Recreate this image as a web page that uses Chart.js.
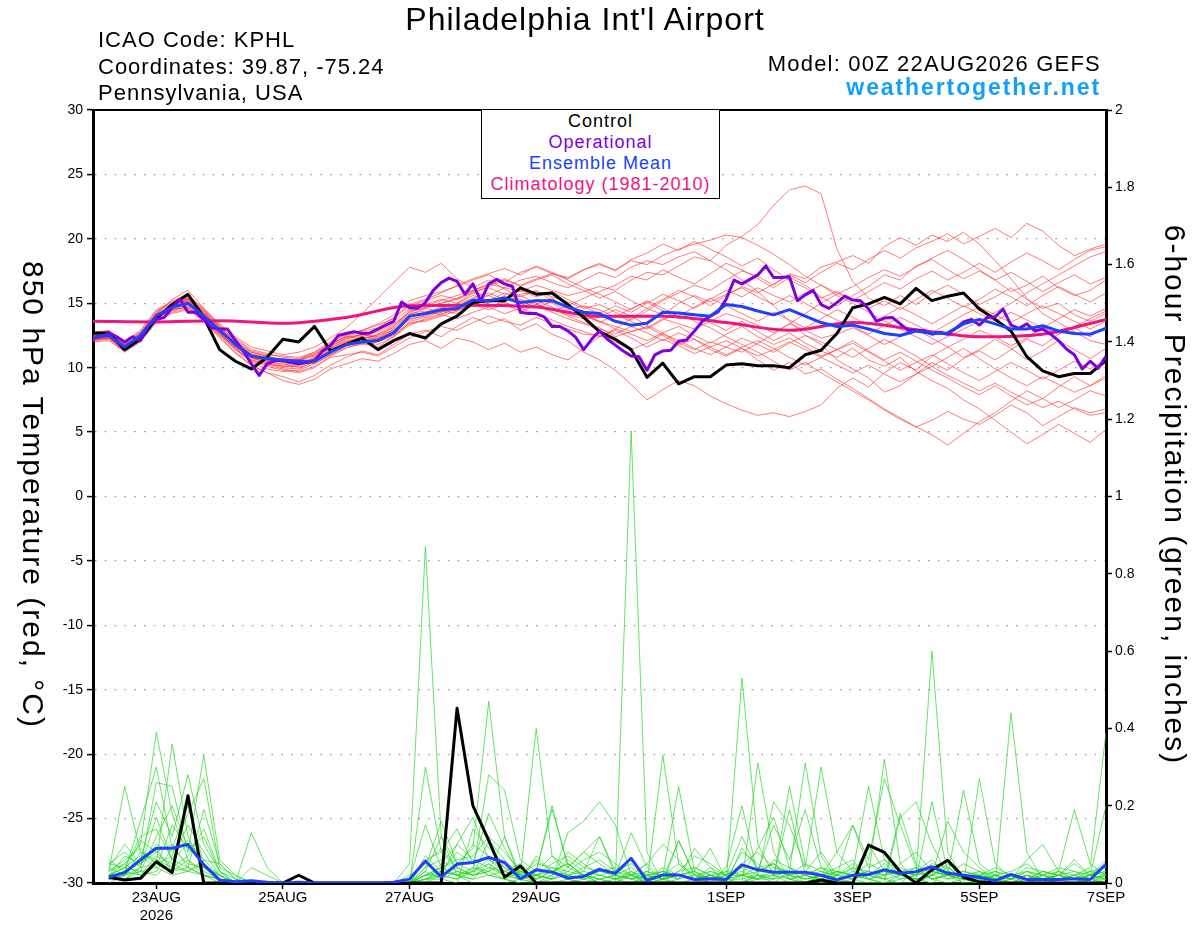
<!DOCTYPE html>
<html>
<head>
<meta charset="utf-8">
<title>Philadelphia Int'l Airport - GEFS meteogram</title>
<script src="https://cdn.jsdelivr.net/npm/chart.js@4.4.1/dist/chart.umd.min.js"></script>
<style>
  html, body { margin:0; padding:0; background:#fff; }
  #wrap { position:relative; width:1200px; height:927px; overflow:hidden; font-family:"Liberation Sans", Arial, Helvetica, sans-serif; color:#000; }
  #c { position:absolute; left:0; top:0; }
  .txt { position:absolute; white-space:nowrap; line-height:1; }
  #title { left:285px; width:600px; top:3px; text-align:center; font-size:32px; letter-spacing:1px; }
  #info { left:98px; top:27px; font-size:22px; letter-spacing:1px; line-height:26.5px; }
  #model { right:99px; top:53px; font-size:22px; letter-spacing:1.2px; text-align:right; }
  #site { right:99px; top:76px; font-size:23px; font-weight:bold; letter-spacing:1.9px; color:#12a0fa; text-align:right; }
  #legend { position:absolute; left:481px; top:109px; width:239px; height:90px; box-sizing:border-box; border:1.5px solid #000; background:#fff; text-align:center; font-size:18px; letter-spacing:1px; line-height:21.3px; padding-top:0.5px; white-space:nowrap; }
  .axt { position:absolute; width:700px; height:40px; line-height:40px; text-align:center; font-size:30px; letter-spacing:2px; white-space:nowrap; transform:rotate(90deg); }
  #ylab { left:-317px; top:475px; }
  #y2lab { left:825px; top:475px; }
</style>
</head>
<body>
<div id="wrap">
  <canvas id="c" width="1200" height="927"></canvas>
  <div class="txt" id="title">Philadelphia Int'l Airport</div>
  <div class="txt" id="info">ICAO Code: KPHL<br>Coordinates: 39.87, -75.24<br>Pennsylvania, USA</div>
  <div class="txt" id="model">Model: 00Z 22AUG2026 GEFS</div>
  <div class="txt" id="site">weathertogether.net</div>
  <div id="legend">
    <div style="color:#000">Control</div>
    <div style="color:#8000dd">Operational</div>
    <div style="color:#2040ff">Ensemble Mean</div>
    <div style="color:#f0147f">Climatology (1981-2010)</div>
  </div>
  <div class="axt" id="ylab">850 hPa Temperature (red, °C)</div>
  <div class="axt" id="y2lab">6-hour Precipitation (green, inches)</div>
</div>
<script>
// ---------- x axis (hours after 00Z 22AUG2026) ----------
const tickHours  = [24, 72, 120, 168, 240, 288, 336, 384];
const tickLabels = [['23AUG', '2026'], '25AUG', '27AUG', '29AUG', '1SEP', '3SEP', '5SEP', '7SEP'];

// ---------- 850 hPa temperature (deg C), 6-hourly from 00Z 22AUG ----------
const controlT = [12.7,12.7,11.4,12.2,13.8,14.9,15.7,13.9,
  11.4,10.5,9.9,10.8,12.2,12.0,13.2,11.3,
  11.8,12.3,11.4,12.1,12.65,12.3,13.4,14.0,
  15.05,15.2,15.2,16.2,15.7,15.8,14.9,13.9,
  12.8,12.2,11.4,9.25,10.35,8.75,9.3,9.3,
  10.2,10.3,10.15,10.15,10.0,11.0,11.35,12.65,
  14.65,14.95,15.45,14.95,16.15,15.2,15.55,15.8,
  14.55,13.75,12.85,10.85,9.75,9.3,9.55,9.55,
  10.55];
const meanT = [12.4,12.5,11.6,12.5,14.0,14.7,15.0,14.0,
  12.9,11.8,10.9,10.7,10.6,10.5,10.5,11.2,
  11.8,12.0,12.1,12.7,14.0,14.2,14.5,14.6,
  15.25,15.2,15.4,15.05,15.2,15.2,14.7,14.3,
  14.2,13.6,13.3,13.45,14.3,14.25,14.1,14.0,
  14.9,14.75,14.4,14.1,14.5,14.0,13.5,13.2,
  13.3,13.0,12.65,12.5,12.85,12.65,12.7,13.4,
  13.75,13.4,13.0,13.0,13.25,12.85,12.65,12.6,
  13.05];
// operational run, 3-hourly
const operationalT = [12.3,12.4,12.7,12.4,12.0,12.4,12.1,13.25,
  13.75,13.9,14.65,15.3,14.3,14.3,13.75,13.1,
  13.0,13.0,12.1,11.3,10.3,9.4,10.3,10.55,
  10.55,10.4,10.3,10.4,10.55,11.3,11.7,12.5,
  12.65,12.8,12.65,12.7,13.0,13.3,13.6,15.1,
  14.65,14.6,15.05,16.0,16.6,16.95,16.7,15.7,
  16.5,15.2,16.5,16.85,16.5,16.3,14.3,14.2,
  14.2,13.95,13.2,13.2,12.85,12.35,11.4,12.2,
  12.85,12.2,11.75,11.3,10.9,10.85,9.8,11.0,
  11.3,11.35,12.05,12.15,12.85,13.6,14.0,14.35,
  15.3,16.8,16.5,16.85,17.2,17.9,17.0,17.0,
  17.05,15.2,15.65,16.0,14.9,14.6,15.05,15.55,
  15.25,15.2,14.55,13.6,13.85,13.9,13.4,12.9,
  12.9,12.85,12.6,12.75,12.6,13.05,13.55,13.75,
  13.3,13.9,13.95,14.55,13.3,13.05,13.4,12.85,
  13.0,12.6,12.1,11.45,11.0,9.9,10.5,9.95,
  10.9];
// climatology 1981-2010, daily at 00Z
const climT = [13.6,13.55,13.65,13.45,13.9,14.8,14.85,14.7,14.0,14.0,13.5,12.9,13.5,12.95,12.4,12.6,13.75];

// ensemble members (temperature)
const memT01 = [12.6,12.8,11.9,12.7,14.3,15.2,15.6,14.5, 13.2,12.0,11.2,10.9,10.4,10.2,10.8,11.6, 12.3,12.6,12.4,13.2,14.5,14.9,15.3,15.0, 15.8,15.6,16.2,15.9,16.4,16.0,15.6,15.9, 16.3,16.0,16.8,17.4,17.2,17.9,18.6,18.3, 19.5,20.2,21.1,22.6,23.8,24.1,23.5,19.2, 16.7,15.4,14.8,15.6,14.9,15.8,16.4,15.7, 14.9,15.5,16.2,15.3,14.6,15.0,14.1,13.6, 14.2];
const memT02 = [12.2,12.3,11.4,12.6,14.2,15.3,16.0,14.6, 13.4,12.4,11.6,11.3,11.0,11.2,11.6,12.3, 13.1,14.2,15.4,16.6,17.8,17.4,18.1,16.9, 16.2,16.8,16.1,15.5,16.0,15.2,14.8,15.4, 15.9,16.4,17.1,16.8,17.6,17.0,16.5,17.3, 18.1,17.6,16.9,16.2,17.0,16.4,15.5,14.8, 15.6,16.3,17.2,16.8,17.9,18.4,17.6,16.9, 17.5,16.8,15.9,16.4,17.1,16.2,15.6,16.0, 16.8];
const memT03 = [12.1,12.2,11.2,12.0,13.5,14.4,14.8,13.6, 12.4,11.2,10.2,9.6,9.3,8.9,9.4,10.2, 10.8,11.3,11.0,11.8,12.6,12.9,12.4,13.2, 13.9,13.4,13.8,12.9,13.4,12.6,12.1,11.2, 10.6,9.8,8.7,7.5,8.3,9.0,8.6,7.8, 7.2,6.7,6.3,6.5,6.2,6.6,7.1,8.4, 9.2,8.5,9.6,10.4,9.8,10.9,11.6,10.8, 11.4,12.2,11.5,10.6,11.3,12.1,11.4,10.7, 11.5];
const memT04 = [12.5,12.7,11.8,12.4,13.9,14.5,14.7,13.8, 12.6,11.5,10.5,10.1,9.8,9.6,10.0,10.9, 11.5,11.9,11.6,12.4,13.3,13.8,14.2,14.5, 14.9,15.3,15.0,14.6,15.2,14.7,14.0,13.5, 13.1,12.4,12.8,13.2,12.5,11.8,12.2,11.4, 10.9,11.5,10.6,9.8,10.4,9.5,9.9,9.1, 8.4,7.6,6.8,6.1,5.4,4.8,4.0,4.9, 5.8,6.5,7.4,8.2,7.6,8.5,9.3,8.6, 9.4];
const memT05 = [12.3,12.6,11.7,12.6,14.1,14.8,15.2,14.2, 13.0,11.9,11.0,10.6,10.5,10.3,10.6,11.4, 12.0,12.2,12.6,13.1,14.1,14.6,14.3,15.0, 15.6,15.2,15.8,15.3,14.9,15.4,14.5,14.8, 14.5,13.9,14.6,15.1,14.4,13.8,14.2,13.5, 12.9,13.6,12.8,12.1,12.7,11.9,11.3,10.8, 11.5,10.6,10.1,10.8,9.7,9.0,8.4,7.5, 6.8,5.9,5.0,4.1,4.8,5.6,4.9,4.2, 5.2];
const memT06 = [12.7,12.9,12.0,12.8,14.4,15.0,15.3,14.3, 13.1,12.2,11.3,11.0,10.9,10.8,11.2,11.9, 12.4,12.5,12.9,13.6,14.6,14.8,15.2,15.6, 16.0,16.4,16.9,16.3,16.8,17.2,16.5,16.0, 15.4,15.9,15.2,14.6,15.3,16.0,15.5,14.8, 15.6,16.3,15.8,16.5,17.2,16.6,17.4,18.1, 17.6,18.4,19.1,18.5,19.3,19.8,20.4,19.6, 20.2,20.8,20.1,21.2,20.6,19.5,18.7,19.2, 19.6];
const memT07 = [12.0,12.1,11.3,12.2,13.8,14.9,15.5,14.4, 12.8,11.7,10.8,10.3,10.0,9.9,10.5,11.3, 12.0,12.4,12.2,12.9,13.8,14.0,14.6,14.9, 15.4,15.8,15.3,15.7,15.9,15.5,15.1,14.6, 14.9,14.3,13.7,14.4,15.2,15.8,16.4,16.0, 16.8,17.5,17.1,16.4,17.3,16.9,17.8,18.2, 18.7,18.1,19.4,20.1,19.5,20.3,19.8,20.5, 19.6,18.3,16.9,15.4,14.2,13.5,12.8,12.1, 11.8];
const memT08 = [12.4,12.4,11.5,12.3,14.0,14.6,14.9,13.9, 12.7,11.6,10.7,10.5,10.2,10.4,10.3,11.0, 11.6,11.8,12.0,12.5,13.6,13.9,14.4,14.2, 14.8,15.0,15.6,14.8,15.3,15.0,14.4,14.0, 13.6,13.2,12.8,13.1,13.8,13.4,13.0,13.6, 14.2,13.8,13.3,12.7,13.4,12.9,12.3,12.6, 13.1,12.5,11.8,12.4,13.0,12.3,11.6,12.2, 12.9,12.4,11.7,12.3,13.1,12.6,13.2,13.8, 14.4];
const memT09 = [12.2,12.3,11.6,12.5,14.0,14.6,15.1,14.1, 12.9,11.8,10.9,10.5,10.3,10.0,10.4,11.2, 11.9,12.1,12.3,13.0,14.4,14.6,15.0,15.3, 16.0,16.5,16.2,16.8,17.1,16.6,16.2,16.8, 17.4,17.0,17.8,18.3,18.0,18.6,19.0,18.3, 17.6,16.8,15.9,14.8,13.6,12.5,11.8,10.6, 9.9,9.2,8.1,8.6,9.5,10.4,9.8,10.7, 11.3,10.6,11.4,12.2,11.7,12.6,13.1,12.4, 13.2];
const memT10 = [12.6,12.5,11.5,12.1,13.7,14.3,14.6,13.7, 12.5,11.4,10.6,10.2,9.9,9.7,10.1,10.8, 11.0,11.2,10.9,11.6,12.3,12.8,13.2,12.9, 13.5,14.0,13.6,13.3,13.9,13.4,13.0,12.6, 12.5,12.0,11.4,11.9,12.6,12.1,11.5,11.0, 11.6,12.3,11.8,11.2,11.9,12.5,12.0,11.4, 10.8,11.5,12.2,11.6,10.9,10.1,10.8,11.5, 10.7,9.9,9.2,8.6,9.3,8.7,8.1,8.6, 9.2];
const memT11 = [12.3,12.5,11.7,12.6,14.2,15.0,15.6,14.6, 13.3,12.3,11.4,11.1,10.8,10.7,11.1,11.8, 12.5,12.9,13.4,14.1,15.2,15.6,15.9,16.3, 16.8,17.2,16.6,17.4,17.8,17.3,16.9,17.6, 18.1,17.5,18.4,18.9,19.6,19.1,19.8,19.2, 18.6,17.9,18.5,17.6,16.8,16.2,15.4,15.9, 15.3,14.6,15.2,14.5,15.3,16.0,15.4,14.7, 15.3,16.1,15.5,14.8,15.6,16.3,15.7,15.1, 15.8];
const memT12 = [12.5,12.6,11.8,12.5,14.1,14.9,15.4,14.3, 13.1,12.0,11.0,10.8,10.7,10.6,10.9,11.5, 12.1,12.3,12.5,12.9,14.0,14.3,14.7,14.4, 15.0,14.7,15.1,14.6,14.9,14.5,14.1,13.8, 13.9,14.5,14.0,13.3,12.7,13.2,12.5,11.9, 12.6,13.2,12.4,11.8,12.3,11.6,10.9,11.4, 12.1,11.3,10.6,11.2,10.5,9.8,9.2,8.5, 7.9,8.6,7.8,7.1,7.6,6.9,7.5,8.2, 7.8];
const memT13 = [12.4,12.7,11.9,12.7,14.2,14.7,15.0,14.0, 12.8,11.7,10.8,10.4,10.1,10.2,10.7,11.5, 12.2,12.6,12.3,12.8,13.7,14.1,14.3,14.8, 15.3,15.1,15.5,15.2,14.7,15.1,14.7,14.1, 13.6,13.0,12.6,12.1,12.7,11.9,11.4,12.0, 11.6,11.2,11.9,12.6,13.4,14.2,15.0,15.7, 16.3,17.0,17.6,17.1,17.8,18.5,19.1,18.4, 17.6,16.8,17.4,16.7,15.9,16.6,17.2,16.5, 17.0];
const memT14 = [12.1,12.3,11.4,12.3,13.8,14.6,15.2,14.1, 12.6,11.4,10.4,9.9,9.7,9.8,10.3,11.0, 11.7,12.0,12.6,13.3,14.2,14.4,14.1,14.7, 15.2,15.6,15.1,15.6,15.0,14.4,14.8,14.2, 13.5,14.1,13.6,13.0,13.7,14.3,13.6,13.1, 12.4,11.8,11.2,10.5,9.8,10.4,9.6,8.9, 8.2,7.5,6.7,6.0,5.4,5.9,6.6,6.0, 5.6,6.3,7.1,6.5,5.5,6.2,6.9,6.5, 6.8];
const memT15 = [12.6,12.8,12.0,12.9,14.5,15.1,15.4,14.4, 13.2,12.1,11.2,10.9,10.6,10.6,11.0,11.7, 12.3,12.4,12.8,13.4,14.3,14.7,15.0,15.4, 15.9,16.2,15.7,16.0,15.5,15.9,15.3,14.7, 14.2,14.8,14.3,15.0,15.7,15.2,14.6,15.3, 16.0,15.5,16.2,15.6,15.1,15.8,16.4,15.8, 15.2,15.9,16.6,16.1,16.9,17.5,16.8,17.4, 18.1,17.4,18.2,18.9,18.3,17.6,18.4,19.1, 19.4];
const memT16 = [12.3,12.4,11.5,12.4,13.9,14.5,14.9,14.0, 12.7,11.5,10.6,10.3,10.1,10.1,10.6,11.3, 11.8,12.0,11.8,12.4,13.5,13.6,14.0,14.4, 14.9,14.5,14.9,14.4,14.8,14.3,13.8,13.4, 13.0,12.6,13.2,12.7,12.1,12.7,12.2,11.6, 11.0,11.6,12.1,11.5,10.8,10.2,10.8,11.4, 11.9,11.2,10.5,9.8,10.4,11.0,10.3,9.6, 9.0,9.7,10.4,9.8,9.1,9.8,10.5,9.9, 10.6];
const memT17 = [12.5,12.6,11.6,12.4,14.0,14.8,15.3,14.2, 12.9,11.9,11.1,10.8,10.6,10.5,11.0,11.8, 12.4,12.8,13.1,13.9,14.9,15.3,15.8,16.4, 16.9,17.3,17.7,17.2,17.9,17.4,16.8,16.2, 15.7,15.1,14.5,15.2,14.6,14.0,14.7,15.4, 14.8,14.2,13.6,14.3,13.7,13.1,13.8,14.5, 13.9,13.3,14.0,14.7,14.1,13.4,14.1,14.8, 14.2,13.6,14.3,13.7,13.1,13.8,14.5,14.0, 14.6];
const memT18 = [12.2,12.4,11.5,12.3,13.6,14.2,14.5,13.6, 12.3,11.1,10.2,9.6,9.0,8.7,9.1,9.9, 10.3,10.7,10.5,11.1,11.8,12.1,11.5,12.3, 12.0,11.4,11.9,11.2,11.6,11.0,10.6,11.5, 12.4,13.0,13.8,14.6,14.1,15.0,15.6,15.1, 15.7,16.2,15.5,14.9,15.6,15.0,14.3,13.7, 13.2,12.6,13.3,13.9,13.3,12.7,13.4,14.1, 14.7,14.1,13.5,14.2,14.8,14.2,13.6,13.0, 13.6];
const memT19 = [12.7,12.8,11.8,12.5,14.0,14.8,15.3,14.2, 13.0,11.9,11.0,10.7,10.5,10.6,11.2,12.0, 12.6,12.9,13.3,13.8,14.8,15.2,15.6,15.3, 15.8,16.3,16.8,16.4,16.9,17.3,17.0,17.6, 18.0,17.6,18.3,18.0,18.7,19.2,19.6,19.9, 20.3,20.1,19.5,18.8,18.0,17.1,16.4,15.6, 15.0,14.3,13.6,13.0,12.4,11.8,12.4,13.0, 13.6,14.3,15.0,15.8,16.5,17.2,17.9,18.6, 19.0];
const memT20 = [12.4,12.3,11.3,12.1,13.8,14.5,14.7,13.8, 12.6,11.6,10.8,10.6,10.4,10.3,10.8,11.3, 11.9,12.0,12.2,12.6,13.4,13.7,14.1,13.8, 14.3,14.7,14.2,14.6,14.2,13.7,13.2,12.8, 12.4,12.9,12.3,11.6,12.2,11.7,11.1,11.6, 12.1,11.5,10.9,11.4,12.0,11.4,10.8,10.2, 9.6,10.2,9.5,8.9,9.5,10.1,9.4,8.8, 8.2,8.8,8.1,7.5,6.9,7.4,6.8,6.3, 6.5];

// ---------- 6-hour precipitation (inches), 6-hourly ending 06Z 22AUG ... 00Z 7SEP ----------
const controlP = [0.015,0.008,0.012,0.055,0.027,0.226,0,0, 0,0,0,0,0.02,0,0,0, 0,0,0,0,0,0,0.452,0.2, 0.11,0.015,0.044,0,0,0,0,0, 0,0,0,0,0,0,0,0, 0,0,0,0,0,0.008,0,0, 0.098,0.079,0.029,0,0.034,0.059,0.015,0.003, 0,0,0,0,0,0,0,0];
const meanP = [0.015,0.027,0.06,0.09,0.09,0.10,0.047,0.008, 0.003,0.006,0.002,0,0.002,0,0,0, 0,0,0.002,0.01,0.057,0.016,0.049,0.053, 0.066,0.053,0.011,0.034,0.028,0.013,0.017,0.035, 0.025,0.064,0.006,0.021,0.021,0.009,0.011,0.009, 0.047,0.034,0.028,0.028,0.028,0.02,0.008,0.02, 0.022,0.034,0.025,0.029,0.042,0.025,0.02,0.015, 0.006,0.022,0.009,0.009,0.009,0.011,0.009,0.049];
const memP01 = [0.02,0.05,0.10,0.39,0.18,0.06,0.02,0, 0,0,0,0,0,0,0,0, 0,0,0,0.05,0.87,0.12,0.02,0, 0,0,0.01,0.02,0.03,0.05,0.02,0, 0,1.17,0.08,0,0,0.01,0.02,0, 0,0.03,0.05,0.02,0,0.01,0,0, 0,0,0,0,0.02,0.05,0.02,0, 0,0.01,0.03,0.01,0,0,0,0.02];
const memP02 = [0.03,0.25,0.08,0.05,0.36,0.12,0.04,0.01, 0,0,0,0,0,0,0,0, 0,0,0,0,0.30,0.08,0.14,0.05, 0.02,0.01,0,0,0,0,0.01,0.03, 0.02,0.01,0,0.33,0.05,0.01,0,0, 0.53,0.10,0.02,0,0,0.01,0.03,0.02, 0.01,0,0,0,0.02,0.04,0.01,0, 0,0,0,0.02,0.01,0,0,0];
const memP03 = [0.01,0.03,0.16,0.30,0.09,0.20,0.05,0, 0,0.13,0.04,0,0,0,0,0, 0,0,0,0,0.04,0.16,0.05,0.09, 0.47,0.12,0.02,0,0,0.01,0,0, 0,0,0.01,0.02,0.25,0.03,0,0, 0,0.31,0.08,0.01,0,0,0.02,0.04, 0.01,0,0.02,0.03,0.01,0,0,0, 0,0,0,0,0.01,0.02,0.04,0.39];
const memP04 = [0.05,0.08,0.04,0.26,0.25,0.08,0.33,0.06, 0.02,0,0,0,0,0,0,0, 0,0,0,0,0.02,0.02,0.10,0.17, 0.06,0.03,0.02,0.40,0.07,0.02,0.01,0, 0,0.03,0,0,0.01,0.09,0.04,0, 0,0.02,0.01,0.25,0.05,0,0,0, 0,0,0.01,0.02,0.60,0.08,0.01,0, 0,0,0.02,0.01,0,0,0.01,0];
const memP05 = [0,0.02,0.06,0.21,0.12,0.28,0.10,0.03, 0,0,0,0,0,0,0,0, 0,0,0,0.01,0.15,0.04,0.02,0.03, 0.28,0.24,0.06,0.03,0.19,0.05,0.02,0.01, 0,0,0,0.01,0.02,0.01,0,0.04, 0.20,0.02,0,0.03,0.31,0.07,0.01,0, 0,0.04,0.02,0.01,0,0.03,0.02,0.01, 0,0.44,0.08,0.01,0,0,0.01,0.01];
const memP06 = [0.02,0.04,0.12,0.14,0.06,0.04,0.19,0.05, 0.01,0,0,0,0,0,0,0, 0,0,0,0,0.06,0.08,0.04,0.02, 0.03,0.12,0.01,0,0.01,0.13,0.16,0.21, 0.15,0.02,0,0,0.11,0.02,0.01,0, 0.02,0.09,0.17,0.04,0,0.02,0,0.01, 0.02,0.32,0.05,0.01,0.21,0.03,0,0, 0,0,0.01,0.01,0.02,0.06,0.02,0.01];
const memP07 = [0.04,0.10,0.05,0.08,0.04,0.03,0.06,0.02, 0,0,0,0,0,0,0,0, 0,0,0,0,0.01,0.03,0.02,0.01, 0.05,0.02,0.01,0.03,0.20,0.04,0.08,0.12, 0.02,0.13,0.04,0.01,0.11,0.02,0,0, 0,0.02,0.21,0.15,0.04,0.30,0.08,0.03, 0.25,0.06,0.02,0.01,0,0,0.01,0, 0.02,0,0,0.01,0.03,0.01,0,0.03];
const memP08 = [0.01,0.02,0.03,0.12,0.20,0.09,0.05,0.01, 0,0,0,0,0,0,0,0, 0,0,0,0,0.03,0.01,0,0.14, 0.09,0.05,0.03,0.01,0.03,0.01,0.02,0, 0.01,0,0.02,0.01,0.03,0.04,0.02,0, 0.09,0.04,0.05,0.01,0,0.02,0.08,0.15, 0.06,0.27,0.15,0.04,0.01,0.02,0.05,0.03, 0,0.01,0,0,0.02,0.05,0.02,0.20];
const memP09 = [0.03,0.06,0.09,0.05,0.07,0.18,0.27,0.04, 0.02,0,0,0,0,0,0,0, 0,0,0,0.02,0.05,0.09,0.04,0.02, 0.11,0.06,0.02,0.05,0.04,0.02,0.03,0.12, 0.03,0.01,0.02,0.01,0.02,0.03,0.09,0.01, 0,0.01,0.06,0.04,0.02,0.01,0.02,0.01, 0,0,0.17,0.21,0.10,0.02,0,0.27, 0.05,0.01,0.02,0,0.03,0.02,0,0.01];
const memP10 = [0.06,0.03,0.11,0.08,0.10,0.04,0.02,0.01, 0,0,0,0,0,0,0,0, 0,0,0,0,0,0.05,0.10,0.06, 0.04,0.02,0.01,0,0.02,0.08,0.05,0.02, 0.01,0.02,0.05,0.10,0.06,0.01,0.02,0.01, 0.02,0.01,0.01,0.02,0.03,0.08,0.02,0.05, 0.02,0.01,0,0.03,0.06,0.02,0.24,0.05, 0.02,0.01,0.06,0.10,0.03,0.19,0.05,0.02];
const memP11 = [0.02,0.07,0.05,0.10,0.08,0.11,0.06,0.05, 0.01,0,0,0,0,0,0,0, 0,0,0,0,0.02,0.04,0.06,0.07, 0.12,0.08,0.03,0.02,0.01,0.02,0.01,0.02, 0.03,0.02,0.01,0.03,0.02,0.01,0.04,0.02, 0.04,0.02,0.02,0.03,0.01,0.02,0.03,0.02, 0.03,0.02,0.03,0.04,0.03,0.02,0.03,0.02, 0.01,0.02,0.03,0.02,0.04,0.03,0.02,0.05];
const memP12 = [0.01,0.01,0.04,0.17,0.06,0.15,0.08,0.02, 0,0.04,0.02,0,0,0,0,0, 0,0,0,0,0.01,0.02,0.01,0.04, 0.03,0.01,0,0.07,0.03,0.01,0,0.01, 0,0.02,0,0.01,0,0,0.02,0.01, 0.08,0.05,0.02,0.19,0.02,0,0.01,0.02, 0.03,0.01,0.18,0.05,0.02,0.16,0.08,0.04, 0.01,0,0.02,0.01,0,0,0.02,0.06];
const memP13 = [0.02,0.04,0.07,0.04,0.15,0.09,0.12,0.03, 0,0,0,0,0,0,0,0, 0,0,0,0,0.07,0.03,0.08,0.05, 0.18,0.09,0.02,0.03,0.07,0.04,0.08,0.05, 0.02,0.04,0.02,0,0.03,0.07,0.05,0.02, 0.12,0.03,0.15,0.06,0.19,0.04,0.01,0.02, 0.05,0.03,0.01,0.02,0.04,0.01,0.02,0.01, 0.03,0.02,0,0.01,0.02,0.01,0.03,0.02];
const memP14 = [0.04,0.02,0.08,0.06,0.04,0.07,0.14,0.03, 0.01,0,0,0,0,0,0,0, 0,0,0,0,0.04,0.06,0.03,0.02, 0.04,0.03,0.05,0.02,0.04,0.03,0.06,0.08, 0.05,0.02,0.03,0.02,0.01,0.04,0.02,0.03, 0.02,0.04,0.03,0.02,0.01,0.02,0.04,0.06, 0.01,0.02,0.05,0.08,0.03,0.02,0.01,0.03, 0.02,0.01,0.04,0.03,0.02,0.03,0.01,0.02];
const memP15 = [0.03,0.05,0.02,0.03,0.09,0.05,0.04,0.02, 0,0,0,0,0,0,0,0, 0,0,0,0,0.03,0.12,0.05,0.03, 0.06,0.04,0.02,0.06,0.03,0.05,0.02,0.04, 0.01,0.03,0.01,0.02,0.05,0.02,0.03,0.01, 0.02,0.01,0.04,0.02,0.05,0.03,0.02,0.15, 0.04,0.06,0.03,0.02,0.05,0.04,0.02,0.01, 0.02,0.03,0.05,0.02,0.01,0.02,0.03,0.04];
const memP16 = [0.01,0.03,0.02,0.07,0.05,0.03,0.02,0.01, 0,0,0,0,0,0,0,0, 0,0,0,0,0,0.02,0.04,0.10, 0.07,0.04,0.01,0.02,0.05,0.07,0.04,0.06, 0.03,0.05,0.02,0.03,0.02,0.01,0.03,0.02, 0.05,0.08,0.04,0.03,0.02,0.04,0.03,0.02, 0.10,0.03,0.02,0.04,0.01,0.02,0.03,0.02, 0.04,0.02,0.01,0.03,0.02,0.01,0.02,0.03];
const memP17 = [0.02,0.03,0.05,0.09,0.03,0.06,0.03,0.01, 0,0,0,0,0,0,0,0, 0,0,0,0,0.02,0.03,0.02,0.04, 0.02,0.03,0.01,0.02,0.01,0.03,0.02,0.01, 0.02,0.01,0.03,0.01,0.02,0.03,0.01,0.02, 0.03,0.01,0.02,0.01,0.02,0.03,0.01,0.03, 0.02,0.05,0.02,0.01,0.02,0.01,0.02,0.03, 0.01,0.02,0.01,0.02,0.03,0.01,0.02,0.03];
const memP18 = [0.05,0.04,0.03,0.02,0.06,0.10,0.04,0.02, 0,0,0,0,0,0,0,0, 0,0,0,0,0.01,0.02,0.01,0.03, 0.05,0.02,0.04,0.01,0.02,0.06,0.03,0.02, 0.01,0.02,0.01,0.04,0.02,0.03,0.01,0.02, 0.02,0.03,0.05,0.02,0.01,0.02,0.01,0.04, 0.03,0.02,0.04,0.02,0.03,0.02,0.01,0.02, 0.03,0.01,0.02,0.01,0.02,0.01,0.02,0.04];
const memP19 = [0.01,0.02,0.04,0.05,0.03,0.04,0.02,0.01, 0,0,0,0,0,0,0,0, 0,0,0,0,0.01,0.01,0.03,0.02, 0.03,0.05,0.02,0.01,0.03,0.02,0.04,0.03, 0.04,0.02,0.05,0.01,0.02,0.01,0.02,0.01, 0.01,0.02,0.01,0.04,0.02,0.01,0.03,0.02, 0.01,0.03,0.02,0.01,0.02,0.03,0.02,0.01, 0.02,0.01,0.03,0.02,0.01,0.02,0.01,0.02];
const memP20 = [0.02,0.01,0.03,0.04,0.02,0.03,0.05,0.02, 0,0,0,0,0,0,0,0, 0,0,0,0,0.02,0.04,0.02,0.01, 0.02,0.01,0.03,0.02,0.01,0.04,0.02,0.01, 0.02,0.01,0.02,0.03,0.01,0.02,0.01,0.03, 0.02,0.01,0.03,0.01,0.02,0.04,0.02,0.01, 0.02,0.01,0.02,0.03,0.01,0.02,0.01,0.02, 0.01,0.02,0.01,0.03,0.02,0.01,0.02,0.01];

const membersT = [memT01,memT02,memT03,memT04,memT05,memT06,memT07,memT08,memT09,memT10,memT11,memT12,memT13,memT14,memT15,memT16,memT17,memT18,memT19,memT20];
const membersP = [memP01,memP02,memP03,memP04,memP05,memP06,memP07,memP08,memP09,memP10,memP11,memP12,memP13,memP14,memP15,memP16,memP17,memP18,memP19,memP20];

// time step of each series (hours) and first valid hour
function series(vals, stepH, startH) {
  return vals.map((v, i) => ({ x: startH + i * stepH, y: v }));
}

const RED = 'rgba(255,45,45,0.8)';
const GREEN = 'rgba(30,215,30,0.85)';
const base = { pointRadius: 0, pointHoverRadius: 0, fill: false, tension: 0, borderJoinStyle: 'round' };

const datasets = [];
// thick lines (lowest order drawn on top)
datasets.push(Object.assign({}, base, { label: 'Ensemble Mean', data: series(meanT, 6, 0), yAxisID: 'yT', borderColor: '#2040ff', borderWidth: 3, order: 1 }));
datasets.push(Object.assign({}, base, { label: 'Operational', data: series(operationalT, 3, 0), yAxisID: 'yT', borderColor: '#8000dd', borderWidth: 3, order: 2 }));
datasets.push(Object.assign({}, base, { label: 'Control', data: series(controlT, 6, 0), yAxisID: 'yT', borderColor: '#000', borderWidth: 3, order: 3 }));
datasets.push(Object.assign({}, base, { label: 'Climatology (1981-2010)', data: series(climT, 24, 0), yAxisID: 'yT', borderColor: '#f0147f', borderWidth: 3, cubicInterpolationMode: 'monotone', order: 4 }));
datasets.push(Object.assign({}, base, { label: 'Ensemble Mean precip', data: series(meanP, 6, 6), yAxisID: 'yP', borderColor: '#2040ff', borderWidth: 3, order: 5 }));
datasets.push(Object.assign({}, base, { label: 'Control precip', data: series(controlP, 6, 6), yAxisID: 'yP', borderColor: '#000', borderWidth: 3, order: 6 }));
membersP.forEach((m, k) => datasets.push(Object.assign({}, base, { label: 'Member ' + (k + 1) + ' precip', data: series(m, 6, 6), yAxisID: 'yP', borderColor: GREEN, borderWidth: 0.8, order: 50 })));
membersT.forEach((m, k) => datasets.push(Object.assign({}, base, { label: 'Member ' + (k + 1), data: series(m, 6, 0), yAxisID: 'yT', borderColor: RED, borderWidth: 0.8, order: 60 })));

const frameTop = {
  id: 'frameTop',
  afterDraw(chart) {
    const { ctx, chartArea: a } = chart;
    ctx.save();
    ctx.strokeStyle = '#000';
    ctx.lineWidth = 2;
    ctx.beginPath();
    ctx.moveTo(a.left - 1.5, a.top);
    ctx.lineTo(a.right + 1.5, a.top);
    ctx.stroke();
    ctx.restore();
  }
};

Chart.defaults.font.family = '"Liberation Sans", Arial, Helvetica, sans-serif';
Chart.defaults.color = '#000';

new Chart(document.getElementById('c'), {
  type: 'line',
  data: { datasets },
  plugins: [frameTop],
  options: {
    responsive: false,
    animation: false,
    events: [],
    layout: { padding: { top: 110, left: 0, right: 0, bottom: 0 } },
    plugins: { legend: { display: false }, tooltip: { enabled: false }, title: { display: false } },
    scales: {
      x: {
        type: 'linear', position: 'bottom', min: 0, max: 384,
        afterFit(s) { s.height = 44; },
        afterBuildTicks(s) { s.ticks = tickHours.map(v => ({ value: v })); },
        ticks: {
          autoSkip: false, maxRotation: 0, minRotation: 0, padding: 0,
          font: { size: 15 }, color: '#000',
          callback(v) { const k = tickHours.indexOf(v); return k >= 0 ? tickLabels[k] : ''; }
        },
        grid: { drawOnChartArea: false, drawTicks: true, tickLength: 6, tickColor: '#000', tickWidth: 1.5 },
        border: { display: true, color: '#000', width: 3 }
      },
      yT: {
        type: 'linear', position: 'left', min: -30, max: 30,
        afterFit(s) { s.width = 93; },
        ticks: { stepSize: 5, font: { size: 14 }, color: '#000', padding: 4 },
        grid: { color: '#9a9a9a', lineWidth: 1.2, drawTicks: true, tickLength: 6, tickColor: '#000', tickWidth: 1.5, tickBorderDash: [] },
        border: { display: true, color: '#000', width: 3, dash: [1.6, 8.2] }
      },
      yP: {
        type: 'linear', position: 'right', min: 0, max: 2,
        afterFit(s) { s.width = 94; },
        ticks: { stepSize: 0.2, font: { size: 14 }, color: '#000', padding: 3,
                 callback(v) { return String(Math.round(v * 10) / 10); } },
        grid: { drawOnChartArea: false, drawTicks: true, tickLength: 6, tickColor: '#000', tickWidth: 1.5 },
        border: { display: true, color: '#000', width: 3 }
      }
    }
  }
});
</script>
</body>
</html>
